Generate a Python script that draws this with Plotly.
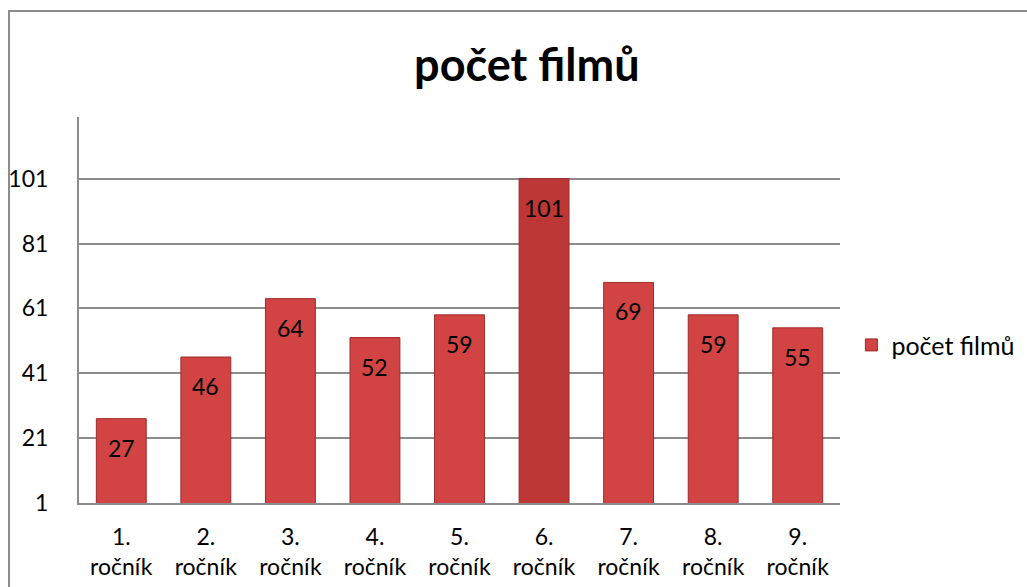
import plotly.graph_objects as go

categories = ["1.<br>ročník", "2.<br>ročník", "3.<br>ročník", "4.<br>ročník", "5.<br>ročník",
              "6.<br>ročník", "7.<br>ročník", "8.<br>ročník", "9.<br>ročník"]
values = [27, 46, 64, 52, 59, 101, 69, 59, 55]
series_name = "počet filmů"
title_text = "počet filmů"
y_ticks = [1, 21, 41, 61, 81, 101]

FONT = "Lato, 'Open Sans', sans-serif"
bar_colors = ["#D24444"] * len(values)
bar_colors[5] = "#BE3737"

fig = go.Figure()
fig.add_trace(go.Bar(
    x=categories, y=values, name=series_name,
    marker=dict(color=bar_colors, line=dict(color="#9E2A2A", width=1)),
    width=0.59,
))

for c, v in zip(categories, values):
    fig.add_annotation(x=c, y=v, text=str(v), showarrow=False, yshift=-29,
                       font=dict(family=FONT, size=23, color="#000000"))

fig.update_layout(
    width=1027, height=587,
    margin=dict(l=79, r=187, t=117, b=84),
    paper_bgcolor="white", plot_bgcolor="white",
    title=dict(text="<b>" + title_text + "</b>", x=0.513, xanchor="center",
               y=0.888, yanchor="middle",
               font=dict(family=FONT, size=45, color="#000000")),
    showlegend=True,
    legend=dict(xref="container", yref="container", x=0.829, y=0.412,
                xanchor="left", yanchor="middle",
                font=dict(family=FONT, size=25, color="#000000"),
                bgcolor="rgba(0,0,0,0)"),
    xaxis=dict(showgrid=False, showline=True, linecolor="#8C8C8C", linewidth=2,
               tickfont=dict(family=FONT, size=23, color="#000000"),
               ticks="", ticklabelstandoff=12, automargin=False),
    yaxis=dict(range=[1, 120], tickvals=y_ticks, showgrid=True, gridcolor="#8C8C8C",
               gridwidth=2, showline=True, linecolor="#8C8C8C", linewidth=2,
               zeroline=False, ticks="", automargin=False,
               tickfont=dict(family=FONT, size=23, color="#000000"),
               ticklabelstandoff=24),
    shapes=[dict(type="rect", xref="paper", yref="paper",
                 x0=(9 - 79) / 761, x1=(1040 - 79) / 761,
                 y0=(503 - 600) / 386, y1=(503 - 11) / 386,
                 line=dict(color="#8C8C8C", width=2), layer="below")],
)

fig.write_html("out.html")
